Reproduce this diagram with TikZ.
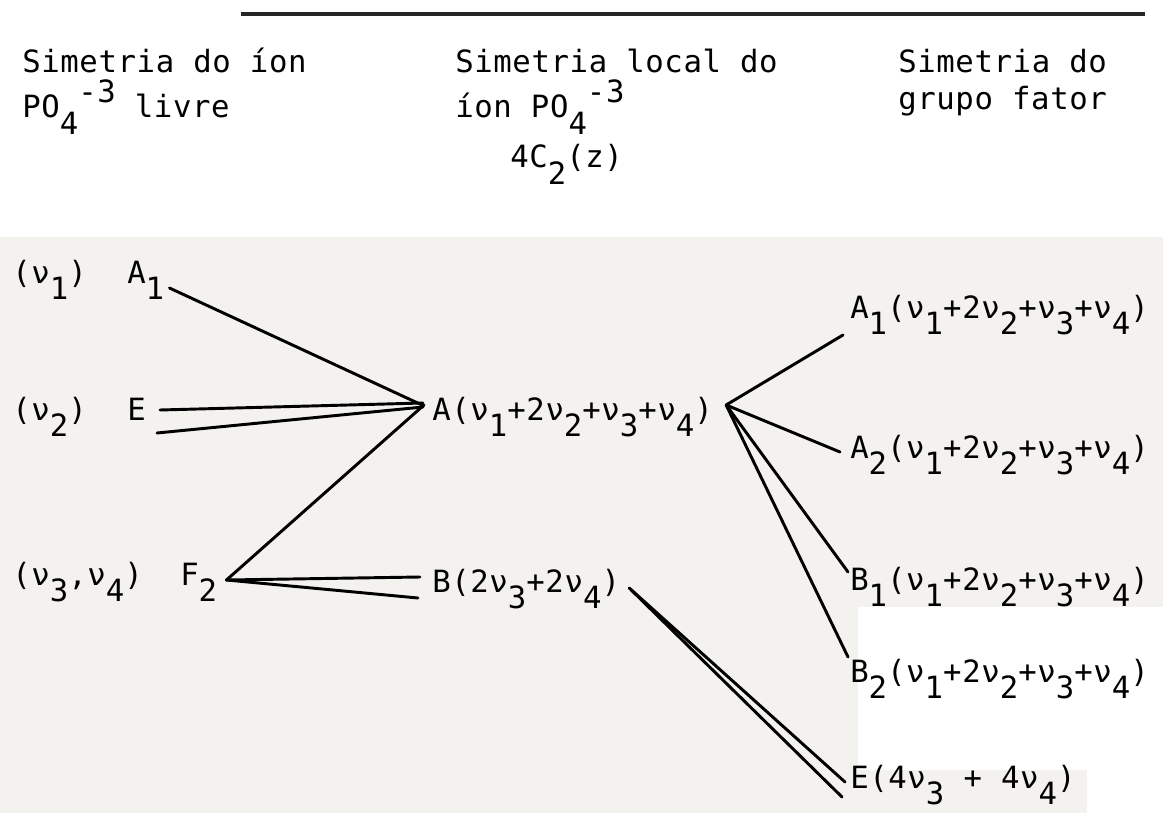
\documentclass[tikz,border=0pt]{standalone}
\usepackage{fontspec}
\usepackage{tikz}
\usetikzlibrary{calc}
\newfontfamily\maq[LetterSpace=2]{DejaVu Sans Mono}
\newcommand{\lo}[1]{\raisebox{-0.55em}{#1}}
\newcommand{\hi}[1]{\raisebox{0.5em}{#1}}
\definecolor{papel}{RGB}{244,242,238}

\begin{document}
\begin{tikzpicture}[x=0.75pt, y=-0.75pt,
    rotulo/.style={anchor=base west, inner sep=0pt, font=\maq\fontsize{23}{27}\selectfont},
    liga/.style={line width=2.2pt, line cap=round}]
    \useasboundingbox (0,0) rectangle (1163,813);
    % Fundo da folha
    \fill[papel] (0,237) rectangle (1163,813);
    \fill[white] (858,607) rectangle (1163,770);
    \fill[white] (1087,770) rectangle (1163,813);
    \draw[line width=2.4pt, black!85] (241,14) -- (1145,14);

    % Cabeçalho
    \node[rotulo] (h1) at (22,73) {Simetria do íon};
    \node[rotulo] (h1b) at (22,118) {PO\lo{4}\hi{-3}  livre};
    \node[rotulo] (h2) at (455,73) {Simetria local do};
    \node[rotulo] (h2b) at (455,118) {íon PO\lo{4}\hi{-3}};
    \node[rotulo] (h2c) at (510,168) {4C\lo{2}(z)};
    \node[rotulo] (h3) at (898,73) {Simetria do};
    \node[rotulo] (h3b) at (898,110) {grupo fator};

    % Ion livre
    \node[rotulo] (nu1) at (12,283) {(ν\lo{1})};
    \node[rotulo] (sA1) at (127,283) {A\lo{1}};
    \node[rotulo] (nu2) at (12,420) {(ν\lo{2})};
    \node[rotulo] (sE) at (127,420) {E};
    \node[rotulo] (nu34) at (12,585) {(ν\lo{3},ν\lo{4})};
    \node[rotulo] (sF2) at (180,585) {F\lo{2}};

    % Simetria local
    \node[rotulo] (locA) at (432,420) {A(ν\lo{1}+2ν\lo{2}+ν\lo{3}+ν\lo{4})};
    \node[rotulo] (locB) at (432,592) {B(2ν\lo{3}+2ν\lo{4})};

    % Grupo fator
    \node[rotulo] (gA1) at (850,318) {A\lo{1}(ν\lo{1}+2ν\lo{2}+ν\lo{3}+ν\lo{4})};
    \node[rotulo] (gA2) at (850,458) {A\lo{2}(ν\lo{1}+2ν\lo{2}+ν\lo{3}+ν\lo{4})};
    \node[rotulo] (gB1) at (850,590) {B\lo{1}(ν\lo{1}+2ν\lo{2}+ν\lo{3}+ν\lo{4})};
    \node[rotulo] (gB2) at (850,682) {B\lo{2}(ν\lo{1}+2ν\lo{2}+ν\lo{3}+ν\lo{4})};
    \node[rotulo] (gE) at (850,788) {E(4ν\lo{3} + 4ν\lo{4})};

    % Ligações
    \draw[liga] ($(sA1.base east)+(5,5)$) -- ($(locA.base west)+(-10,-15)$);
    \draw[liga] ($(sE.base east)+(14,-10)$) -- ($(locA.base west)+(-9,-17)$);
    \draw[liga] ($(sE.base east)+(11,13)$) -- ($(locA.base west)+(-9,-13)$);
    \draw[liga] ($(sF2.base east)+(9,-5)$) -- ($(locA.base west)+(-8,-15)$);
    \draw[liga] ($(sF2.base east)+(9,-5)$) -- ($(locB.base west)+(-12,-15)$);
    \draw[liga] ($(sF2.base east)+(9,-5)$) -- ($(locB.base west)+(-14,6)$);
    \draw[liga] ($(locA.base east)+(13,-15)$) -- ($(gA1.base west)+(-7,17)$);
    \draw[liga] ($(locA.base east)+(13,-15)$) -- ($(gA2.base west)+(-10,-6)$);
    \draw[liga] ($(locA.base east)+(13,-15)$) -- ($(gB1.base west)+(-2,-18)$);
    \draw[liga] ($(locA.base east)+(13,-15)$) -- ($(gB2.base west)+(-2,-25)$);
    \draw[liga] ($(locB.base east)+(9,-4)$) -- ($(gE.base west)+(-5,-6)$);
    \draw[liga] ($(locB.base east)+(11,-2)$) -- ($(gE.base west)+(-8,9)$);
\end{tikzpicture}
\end{document}
